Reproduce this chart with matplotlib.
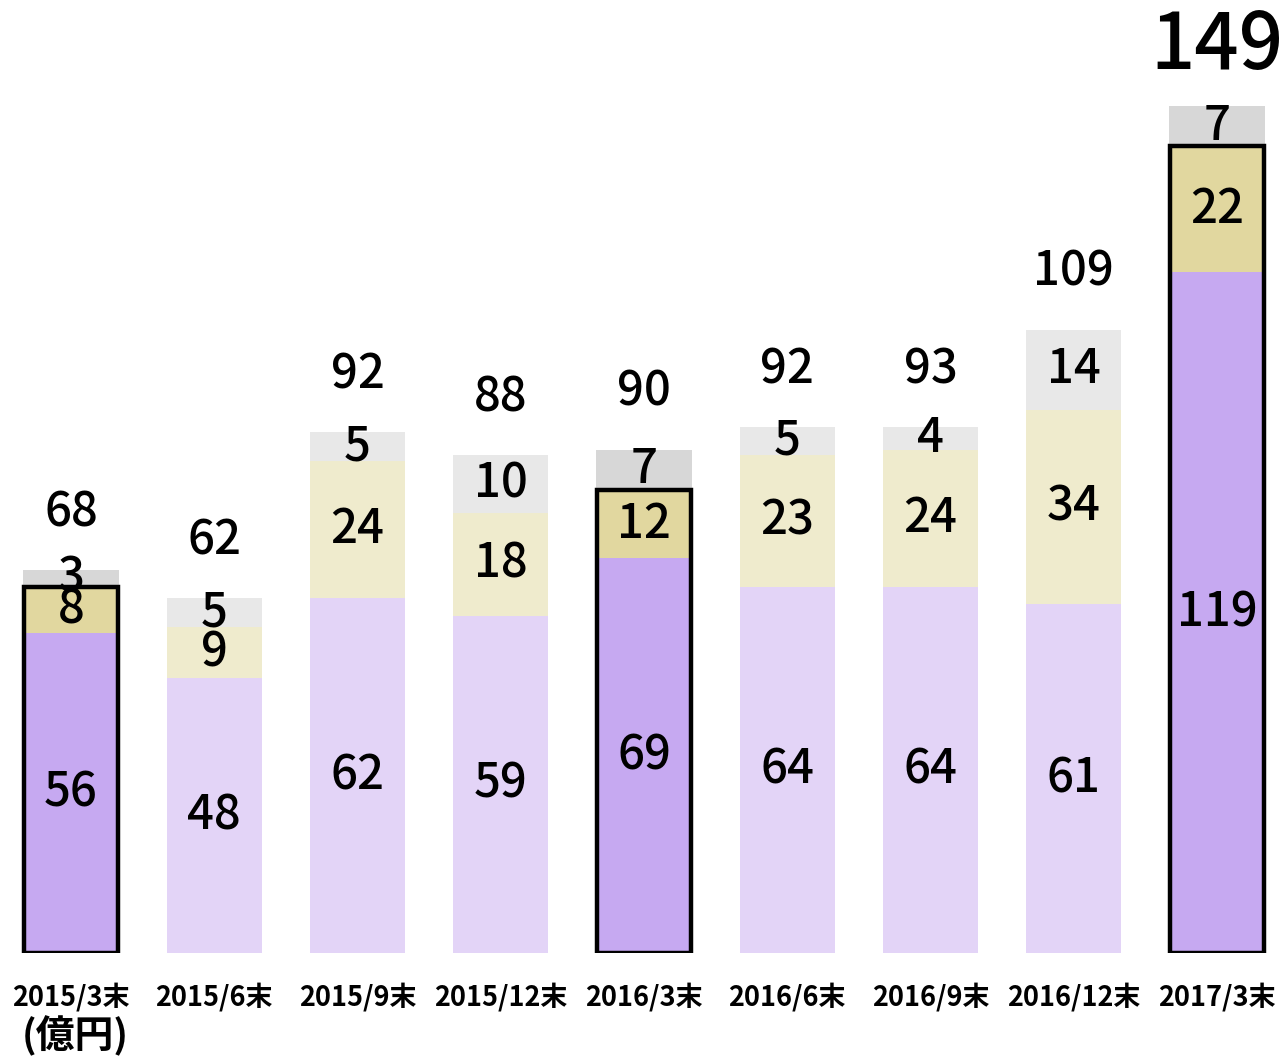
import matplotlib.pyplot as plt

plt.rcParams['font.family'] = ['Noto Sans CJK JP', 'DejaVu Sans']

periods = ["2015/3末", "2015/6末", "2015/9末", "2015/12末", "2016/3末",
           "2016/6末", "2016/9末", "2016/12末", "2017/3末"]
bottom_vals = [56, 48, 62, 59, 69, 64, 64, 61, 119]
middle_vals = [8, 9, 24, 18, 12, 23, 24, 34, 22]
top_vals = [3, 5, 5, 10, 7, 5, 4, 14, 7]
totals = [68, 62, 92, 88, 90, 92, 93, 109, 149]
is_march = [True, False, False, False, True, False, False, False, True]
unit_label = "(億円)"

DARK = ["#c6a9f1", "#e1d79f", "#d7d7d7"]
LIGHT = ["#e3d4f7", "#efebcd", "#e8e8e8"]


def main():
    fig = plt.figure(figsize=(12.83, 10.56), dpi=100)
    ax = fig.add_axes([0, 0.0975, 1, 0.9025])
    x = list(range(len(periods)))
    width = 0.665

    cols = [[(DARK if m else LIGHT)[k] for m in is_march] for k in range(3)]
    mid_base = bottom_vals
    top_base = [b + m for b, m in zip(bottom_vals, middle_vals)]

    ax.bar(x, bottom_vals, width, color=cols[0], linewidth=0)
    ax.bar(x, middle_vals, width, bottom=mid_base, color=cols[1], linewidth=0)
    ax.bar(x, top_vals, width, bottom=top_base, color=cols[2], linewidth=0)

    # black frame around purple+beige for March bars
    for i, m in enumerate(is_march):
        if m:
            ax.bar(i, top_base[i], width - 0.01, fill=False, edgecolor="black",
                   linewidth=3.2)

    fs = 34
    for i in x:
        ax.text(i, bottom_vals[i] / 2, str(bottom_vals[i]), ha="center", va="center",
                fontsize=fs, fontweight="medium")
        ax.text(i, mid_base[i] + middle_vals[i] / 2, str(middle_vals[i]), ha="center",
                va="center", fontsize=fs, fontweight="medium")
        ax.text(i, top_base[i] + top_vals[i] / 2, str(top_vals[i]), ha="center",
                va="center", fontsize=fs, fontweight="medium")
        top = top_base[i] + top_vals[i]
        big = i == len(x) - 1
        ax.text(i, top + (10.5 if big else 10), str(totals[i]), ha="center", va="center",
                fontsize=56 if big else fs, fontweight="medium")

    ax.set_xticks(x)
    ax.set_xticklabels(periods, fontsize=19.5, fontweight="bold")
    ax.tick_params(axis="x", length=0, pad=21)
    ax.set_yticks([])
    for s in ax.spines.values():
        s.set_visible(False)
    ax.set_xlim(-0.496, 8.46)
    ax.set_ylim(0, 166.6)

    fig.text(75 / 1283, 1 - 1036 / 1056, unit_label, ha="center", va="center",
             fontsize=28, fontweight="bold")

    fig.savefig("out.png", dpi=100)
    plt.close(fig)


if __name__ == "__main__":
    main()
